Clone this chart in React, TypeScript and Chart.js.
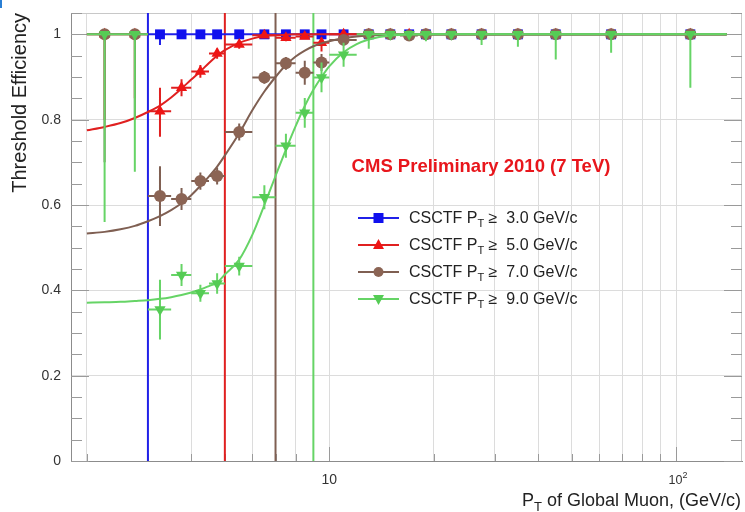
import React, { useEffect, useRef } from "react";
import { Chart, registerables } from "chart.js";

Chart.register(...registerables);

// ---------- data ----------
const binCenters = [2.25, 2.75, 3.25, 3.75, 4.25, 4.75, 5.5, 6.5, 7.5, 8.5, 9.5, 11, 13, 15, 17, 19, 22.5, 27.5, 35, 45, 65, 110];
const binLow = [2, 2.5, 3, 3.5, 4, 4.5, 5, 6, 7, 8, 9, 10, 12, 14, 16, 18, 20, 25, 30, 40, 50, 80];
const binHigh = [2.5, 3, 3.5, 4, 4.5, 5, 6, 7, 8, 9, 10, 12, 14, 16, 18, 20, 25, 30, 40, 50, 80, 140];

const effPt3 = [null, null, 1, 1, 1, 1, 1, 1, 1, 1, 1, 1, 1, 1, 1, 1, 1, 1, 1, 1, 1, 1];
const errLoPt3 = [0, 0, 0.025, 0, 0, 0, 0, 0, 0, 0, 0, 0, 0, 0, 0, 0, 0, 0, 0, 0, 0, 0];
const errHiPt3 = [0, 0, 0, 0, 0, 0, 0, 0, 0, 0, 0, 0, 0, 0, 0, 0, 0, 0, 0, 0, 0, 0];

const effPt5 = [1, 1, 0.82, 0.875, 0.913, 0.955, 0.976, 0.998, 0.992, 0.995, 0.98, 1, 1, 1, 1, 1, 1, 1, 1, 1, 1, 1];
const errLoPt5 = [0.2, 0.15, 0.06, 0.02, 0.015, 0.012, 0.01, 0.005, 0.008, 0.006, 0.02, 0.005, 0, 0, 0, 0, 0, 0, 0, 0, 0, 0];
const errHiPt5 = [0, 0, 0.055, 0.02, 0.015, 0.012, 0.01, 0.002, 0.006, 0.005, 0.012, 0, 0, 0, 0, 0, 0, 0, 0, 0, 0, 0];

const effPt7 = [1, 1, 0.621, 0.614, 0.656, 0.668, 0.771, 0.899, 0.932, 0.91, 0.934, 0.987, 1, 1, 0.997, 1, 1, 1, 1, 1, 1, 1];
const errLoPt7 = [0.3, 0.2, 0.07, 0.026, 0.02, 0.02, 0.02, 0.015, 0.015, 0.028, 0.02, 0.01, 0.005, 0, 0.005, 0, 0, 0, 0, 0, 0, 0];
const errHiPt7 = [0, 0, 0.07, 0.026, 0.02, 0.02, 0.02, 0.015, 0.015, 0.028, 0.02, 0.01, 0, 0, 0.003, 0, 0, 0, 0, 0, 0, 0];

const effPt9 = [1, 1, 0.355, 0.436, 0.393, 0.416, 0.457, 0.618, 0.739, 0.816, 0.899, 0.952, 1, 1, 1, 1, 1, 1, 1, 1, 1, 1];
const errLoPt9 = [0.44, 0.322, 0.07, 0.026, 0.02, 0.024, 0.022, 0.028, 0.028, 0.035, 0.035, 0.028, 0.034, 0.005, 0.005, 0.016, 0.008, 0.025, 0.029, 0.059, 0.043, 0.125];
const errHiPt9 = [0, 0, 0.07, 0.026, 0.02, 0.024, 0.022, 0.028, 0.028, 0.035, 0.035, 0.028, 0, 0, 0, 0, 0, 0, 0, 0, 0, 0];

// fit curves
const fitX = [2, 2.25, 2.5, 2.75, 3, 3.25, 3.5, 3.75, 4, 4.25, 4.5, 4.75, 5, 5.5, 6, 6.5, 7, 7.5, 8, 8.5, 9, 9.5, 10, 11, 12, 13, 15, 20, 30, 50, 80, 140];
const fitPt5 = [0.775, 0.783, 0.792, 0.804, 0.818, 0.833, 0.852, 0.873, 0.894, 0.913, 0.933, 0.95, 0.963, 0.98, 0.99, 0.996, 0.998, 0.999, 1, 1, 1, 1, 1, 1, 1, 1, 1, 1, 1, 1, 1, 1];
const fitPt7 = [0.533, 0.537, 0.543, 0.551, 0.562, 0.574, 0.588, 0.604, 0.623, 0.645, 0.667, 0.69, 0.716, 0.768, 0.822, 0.866, 0.9, 0.928, 0.948, 0.962, 0.972, 0.979, 0.984, 0.991, 0.995, 0.997, 0.999, 1, 1, 1, 1, 1];
const fitPt9 = [0.371, 0.372, 0.373, 0.375, 0.377, 0.38, 0.384, 0.389, 0.395, 0.402, 0.41, 0.418, 0.437, 0.472, 0.53, 0.6, 0.668, 0.73, 0.785, 0.832, 0.87, 0.9, 0.925, 0.958, 0.977, 0.988, 0.997, 1, 1, 1, 1, 1];

const thresholds = [3, 5, 7, 9];
const legendLabels = ["3.0", "5.0", "7.0", "9.0"];

const yTickValues = [0, 0.2, 0.4, 0.6, 0.8, 1];
const yTickLabels = ["0", "0.2", "0.4", "0.6", "0.8", "1"];
const xGridValues = [2, 3, 4, 5, 6, 7, 8, 9, 10, 20, 30, 40, 50, 60, 70, 80, 90, 100];
const xLabelValues = [10, 100];
const xLabelBases = ["10", "10"];
const xLabelExponents = ["", "2"];

const yMinorStep = 0.05;

// ---------- styles ----------
const COLORS = ["#1010ee", "#ee1515", "#8b6454", "#55cc55"];
const LINE_COLORS = ["#2020e8", "#e02020", "#7f5f52", "#66d466"];
const FONT = "'Liberation Sans', Arial, Helvetica, sans-serif";

type Style = { pointStyle: string; radius: number; rotation: number };
const STYLES: Style[] = [
  { pointStyle: "rect", radius: 7, rotation: 0 },
  { pointStyle: "triangle", radius: 6.5, rotation: 0 },
  { pointStyle: "circle", radius: 6, rotation: 0 },
  { pointStyle: "triangle", radius: 6.5, rotation: 180 },
];

function errorBarData(eff: (number | null)[], lo: number[], hi: number[]) {
  const out: { x: number; y: number | null }[] = [];
  binCenters.forEach((x, i) => {
    const y = eff[i];
    if (y === null || y === undefined) return;
    out.push({ x: binLow[i], y }, { x: binHigh[i], y }, { x, y: null });
    if (lo[i] > 0 || hi[i] > 0) {
      out.push({ x, y: y - lo[i] }, { x, y: y + hi[i] }, { x, y: null });
    }
  });
  return out;
}

function pointData(eff: (number | null)[]) {
  return binCenters
    .map((x, i) => ({ x, y: eff[i] }))
    .filter((p) => p.y !== null) as { x: number; y: number }[];
}

function drawMarker(ctx: CanvasRenderingContext2D, kind: number, x: number, y: number, color: string) {
  ctx.save();
  ctx.fillStyle = color;
  ctx.beginPath();
  if (kind === 0) {
    ctx.rect(x - 5, y - 5, 10, 10);
  } else if (kind === 1) {
    ctx.moveTo(x, y - 6);
    ctx.lineTo(x + 5.5, y + 4);
    ctx.lineTo(x - 5.5, y + 4);
    ctx.closePath();
  } else if (kind === 2) {
    ctx.arc(x, y, 5, 0, Math.PI * 2);
  } else {
    ctx.moveTo(x, y + 6);
    ctx.lineTo(x + 5.5, y - 4);
    ctx.lineTo(x - 5.5, y - 4);
    ctx.closePath();
  }
  ctx.fill();
  ctx.restore();
}

function drawSubText(
  ctx: CanvasRenderingContext2D,
  parts: { t: string; sub?: boolean; sup?: boolean }[],
  x: number,
  y: number,
  size: number,
  color: string,
  align: "left" | "right" | "center",
  bold = false
) {
  ctx.save();
  ctx.fillStyle = color;
  ctx.textBaseline = "alphabetic";
  ctx.textAlign = "left";
  const fontFor = (small?: boolean) => `${bold ? "bold " : ""}${small ? Math.round(size * 0.7) : size}px ${FONT}`;
  let total = 0;
  parts.forEach((p) => {
    ctx.font = fontFor(p.sub || p.sup);
    total += ctx.measureText(p.t).width;
  });
  let cx = align === "left" ? x : align === "right" ? x - total : x - total / 2;
  parts.forEach((p) => {
    ctx.font = fontFor(p.sub || p.sup);
    const dy = p.sub ? size * 0.3 : p.sup ? -size * 0.45 : 0;
    ctx.fillText(p.t, cx, y + dy);
    cx += ctx.measureText(p.t).width;
  });
  ctx.restore();
}

const decorPlugin = {
  id: "decor",
  beforeDatasetsDraw(chart: any) {
    const { ctx, chartArea: a, scales } = chart;
    const y = scales.y;
    const x = scales.x;
    ctx.save();
    // top / right frame
    ctx.strokeStyle = "#c8c8c8";
    ctx.lineWidth = 1;
    ctx.beginPath();
    ctx.moveTo(a.left, a.top + 0.5);
    ctx.lineTo(a.right - 0.5, a.top + 0.5);
    ctx.lineTo(a.right - 0.5, a.bottom);
    ctx.stroke();
    // y minor ticks (left & right)
    ctx.strokeStyle = "#9a9a9a";
    for (let v = 0; v <= 1.05 + 1e-9; v += yMinorStep) {
      const py = Math.round(y.getPixelForValue(v)) + 0.5;
      const major = Math.abs(v / 0.2 - Math.round(v / 0.2)) < 1e-6;
      const len = major ? 18 : 11;
      ctx.beginPath();
      ctx.moveTo(a.left, py);
      ctx.lineTo(a.left + len, py);
      ctx.moveTo(a.right, py);
      ctx.lineTo(a.right - len, py);
      ctx.stroke();
    }
    // x ticks at bottom
    xGridValues.forEach((v) => {
      const px = Math.round(x.getPixelForValue(v)) + 0.5;
      const len = v === 10 || v === 100 ? 14 : 7;
      ctx.beginPath();
      ctx.moveTo(px, a.bottom);
      ctx.lineTo(px, a.bottom - len);
      ctx.stroke();
    });
    ctx.restore();
  },
  afterDraw(chart: any) {
    const { ctx, scales } = chart;
    ctx.save();
    // corner mark
    ctx.fillStyle = "#2a7fd4";
    ctx.fillRect(0, 0, 2, 8);

    // x tick labels (10, 10^2)
    xLabelValues.forEach((v, i) => {
      const px = scales.x.getPixelForValue(v);
      const parts: { t: string; sup?: boolean }[] = [{ t: xLabelBases[i] }];
      if (xLabelExponents[i]) parts.push({ t: xLabelExponents[i], sup: true });
      const size = xLabelExponents[i] ? 12.5 : 14;
      drawSubText(ctx, parts, xLabelExponents[i] ? px + 2 : px, 484, size, "#333", "center");
    });

    // y title
    ctx.save();
    ctx.translate(26, 13);
    ctx.rotate(-Math.PI / 2);
    ctx.font = `20px ${FONT}`;
    ctx.fillStyle = "#222";
    ctx.textAlign = "right";
    ctx.textBaseline = "alphabetic";
    ctx.fillText("Threshold Efficiency", 0, 0);
    ctx.restore();

    // x title
    drawSubText(
      ctx,
      [{ t: "P" }, { t: "T", sub: true }, { t: " of Global Muon, (GeV/c)" }],
      741,
      506,
      18,
      "#222",
      "right"
    );

    // CMS label
    ctx.font = `bold 18.5px ${FONT}`;
    ctx.fillStyle = "#e8161c";
    ctx.textAlign = "center";
    ctx.textBaseline = "alphabetic";
    ctx.fillText("CMS Preliminary 2010 (7 TeV)", 481, 172);

    // legend
    const rows = [218, 245, 272, 299];
    rows.forEach((ry, i) => {
      ctx.strokeStyle = LINE_COLORS[i];
      ctx.lineWidth = 2;
      ctx.beginPath();
      ctx.moveTo(358, ry);
      ctx.lineTo(399, ry);
      ctx.stroke();
      drawMarker(ctx, i, 378.5, ry, COLORS[i]);
      drawSubText(
        ctx,
        [{ t: "CSCTF P" }, { t: "T", sub: true }, { t: " \u2265  " + legendLabels[i] + " GeV/c" }],
        409,
        ry + 4.5,
        16,
        "#222",
        "left"
      );
    });
    ctx.restore();
  },
};

function zeroPadding(scale: any) {
  scale.paddingTop = 0;
  scale.paddingBottom = 0;
  scale.paddingLeft = 0;
  scale.paddingRight = 0;
}

export default function App() {
  const canvasRef = useRef<HTMLCanvasElement | null>(null);

  useEffect(() => {
    const canvas = canvasRef.current;
    if (!canvas) return;

    const effs = [effPt3, effPt5, effPt7, effPt9];
    const los = [errLoPt3, errLoPt5, errLoPt7, errLoPt9];
    const his = [errHiPt3, errHiPt5, errHiPt7, errHiPt9];
    const fits: (number[] | null)[] = [null, fitPt5, fitPt7, fitPt9];

    const datasets: any[] = [];
    // threshold vertical lines
    thresholds.forEach((t, i) => {
      datasets.push({
        type: "line",
        label: "thr" + i,
        data: [
          { x: t, y: 0 },
          { x: t, y: 1.05 },
        ],
        borderColor: LINE_COLORS[i],
        borderWidth: 2,
        pointRadius: 0,
        order: 200 - i,
      });
    });
    effs.forEach((eff, i) => {
      const base = 100 - i * 10;
      const fit = fits[i];
      if (fit) {
        datasets.push({
          type: "line",
          label: "fit" + i,
          data: fitX.map((x, k) => ({ x, y: fit[k] })),
          borderColor: LINE_COLORS[i],
          borderWidth: 2,
          pointRadius: 0,
          cubicInterpolationMode: "monotone",
          order: base,
        });
      }
      datasets.push({
        type: "line",
        label: "err" + i,
        data: errorBarData(eff, los[i], his[i]),
        borderColor: LINE_COLORS[i],
        borderWidth: 2,
        pointRadius: 0,
        spanGaps: false,
        order: base - 1,
      });
      datasets.push({
        type: "scatter",
        label: "pts" + i,
        data: pointData(eff),
        pointStyle: STYLES[i].pointStyle,
        pointRadius: STYLES[i].radius,
        pointRotation: STYLES[i].rotation,
        backgroundColor: COLORS[i],
        borderColor: COLORS[i],
        borderWidth: 0,
        order: base - 2,
      });
    });

    const chart = new Chart(canvas, {
      type: "scatter",
      data: { datasets },
      plugins: [decorPlugin],
      options: {
        responsive: false,
        animation: false,
        events: [],
        layout: { padding: { top: 13, right: 3, left: 0, bottom: 0 } },
        plugins: { legend: { display: false }, tooltip: { enabled: false }, title: { display: false } },
        scales: {
          x: {
            type: "logarithmic",
            min: 1.8,
            max: 155,
            afterBuildTicks: (scale: any) => {
              scale.ticks = xGridValues.map((v) => ({ value: v }));
            },
            afterFit: (scale: any) => {
              scale.height = 51;
              zeroPadding(scale);
            },
            grid: { color: "#dcdcdc", lineWidth: 1, drawTicks: false },
            border: { display: true, color: "#8c8c8c", width: 1 },
            ticks: { display: false },
          },
          y: {
            type: "linear",
            min: 0,
            max: 1.05,
            afterBuildTicks: (scale: any) => {
              scale.ticks = yTickValues.map((v) => ({ value: v }));
            },
            afterFit: (scale: any) => {
              scale.width = 71;
              zeroPadding(scale);
            },
            grid: { color: "#dcdcdc", lineWidth: 1, drawTicks: false },
            border: { display: true, color: "#8c8c8c", width: 1 },
            ticks: {
              padding: 10,
              color: "#333",
              font: { family: FONT, size: 14 },
              callback: (value: any) => {
                const idx = yTickValues.findIndex((v) => Math.abs(v - Number(value)) < 1e-9);
                return idx >= 0 ? yTickLabels[idx] : "";
              },
            },
          },
        },
      } as any,
    });

    return () => chart.destroy();
  }, []);

  return (
    <div
      style={{
        position: "fixed",
        left: 0,
        top: 0,
        width: 745,
        height: 512,
        overflow: "hidden",
        background: "#fff",
      }}
    >
      <canvas ref={canvasRef} width={749} height={512} style={{ display: "block", width: 749, height: 512 }} />
    </div>
  );
}
